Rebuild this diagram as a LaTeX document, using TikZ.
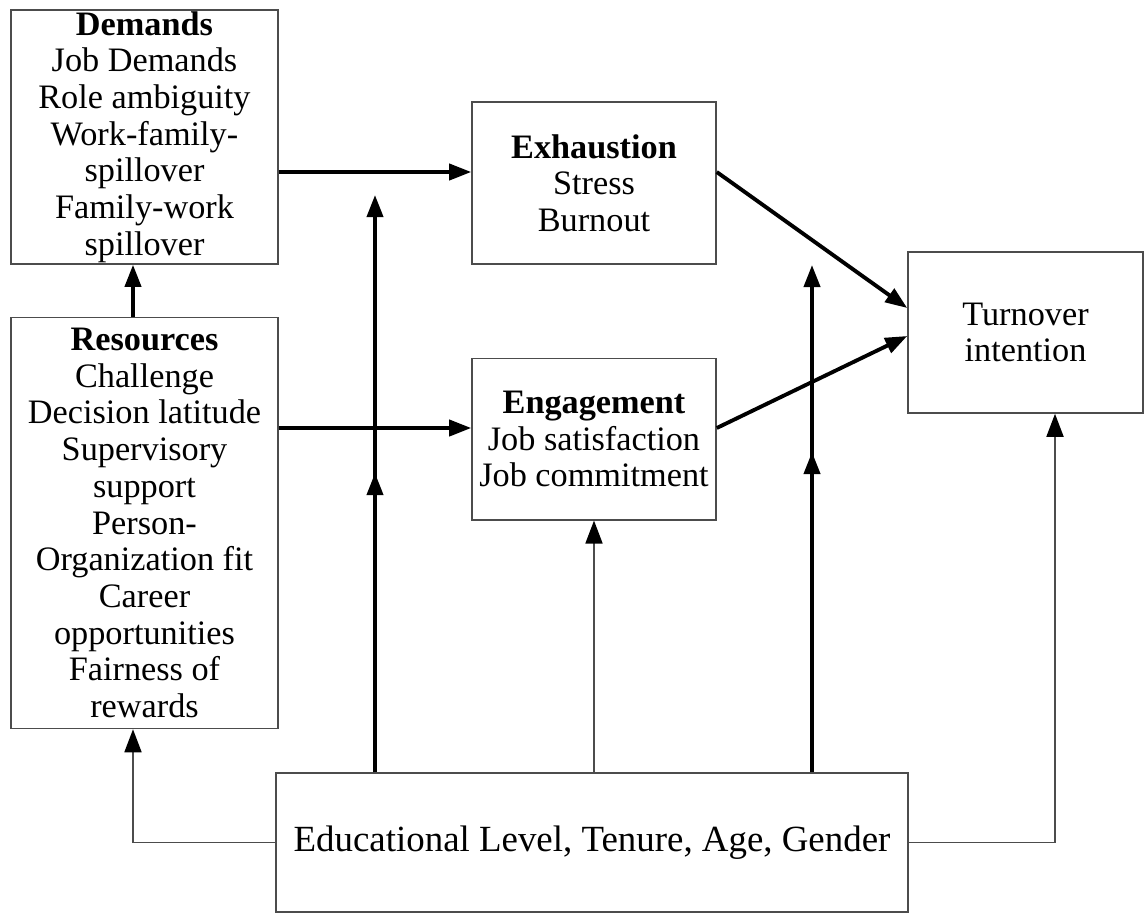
\documentclass[tikz,border=0pt]{standalone}
\usepackage{fontspec}
\setmainfont{Liberation Serif}
\usetikzlibrary{arrows.meta,positioning,calc}
\definecolor{clrBorders}{rgb}{0.3,0.3,0.3}
\tikzstyle{box_style}=[draw=clrBorders, line width=0.9pt, align=center, inner sep=0pt,
font=\fontsize{19.5}{20.9}\selectfont]
\tikzstyle{factor}=[box_style, minimum width=5.34cm]
\tikzstyle{outcome}=[box_style, minimum width=4.88cm, minimum height=3.23cm]
\tikzstyle{myarrow}=[line width=2.2pt, -{Triangle[length=4.4mm,width=3.2mm]}]
\tikzstyle{thinarrow}=[draw=clrBorders, line width=1pt, -{Triangle[length=4.6mm,width=3.4mm,color=black]}]

\begin{document}
\begin{tikzpicture}[x=0.02cm, y=-0.02cm]
	\useasboundingbox (0,0) rectangle (1145,913);

	% antecedents
	\node[factor, minimum height=5.08cm] (dem) at (144.5,137) {\textbf{Demands}\\Job Demands\\Role ambiguity\\Work-family-\\spillover\\Family-work\\spillover};
	\node[factor, minimum height=8.22cm, below=1.04cm of dem] (res) {\textbf{Resources}\\Challenge\\Decision latitude\\Supervisory\\support\\Person-\\Organization fit\\Career\\opportunities\\Fairness of\\rewards};
	\draw[myarrow] (res.north -| 133,0) -- (dem.south -| 133,0);

	% states
	\node[outcome] (exh) at (594,183) {\textbf{Exhaustion}\\Stress\\Burnout};
	\node[outcome, below=1.86cm of exh] (eng) {\textbf{Engagement}\\Job satisfaction\\Job commitment};
	\draw[myarrow] (dem.east |- 0,172) -- (exh.west |- 0,172);
	\draw[myarrow] (res.east |- 0,428) -- (eng.west |- 0,428);

	\node[box_style, minimum width=4.7cm, minimum height=3.22cm] (turn) at (1025.5,332.5) {Turnover\\intention};
	\draw[myarrow] (exh.east |- 0,172) -- (turn.west |- 0,308);
	\draw[myarrow] (eng.east |- 0,428) -- (turn.west |- 0,336);

	% controls
	\node[box_style, minimum width=12.64cm, minimum height=2.78cm, font=\fontsize{21}{24}\selectfont] (ctrl) at (592,842.5) {Educational Level, Tenure, Age, Gender};
	\draw[thinarrow] (ctrl.north -| eng.south) -- (eng.south);
	\draw[thinarrow] (ctrl.west) -| (res.south -| 133,0);
	\draw[thinarrow] (ctrl.east) -| (turn.south -| 1055,0);

	\coordinate (m1) at (375,473);
	\coordinate (t1) at (375,195);
	\draw[myarrow] (ctrl.north -| m1) -- (t1);
	\draw[myarrow] (ctrl.north -| m1) -- (m1);

	\coordinate (m2) at (812,452);
	\coordinate (t2) at (812,265);
	\draw[myarrow] (ctrl.north -| m2) -- (t2);
	\draw[myarrow] (ctrl.north -| m2) -- (m2);
\end{tikzpicture}
\end{document}
